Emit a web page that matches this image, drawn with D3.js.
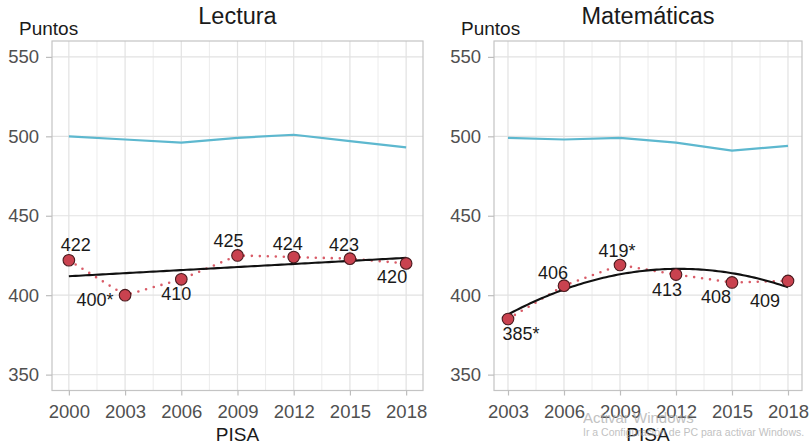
<!DOCTYPE html>
<html>
<head>
<meta charset="utf-8">
<script src="https://cdn.jsdelivr.net/npm/d3@7"></script>
<style>
  html, body { margin: 0; padding: 0; background: #fff; }
  svg { display: block; font-family: "Liberation Sans", Arial, sans-serif; }
</style>
</head>
<body>
<svg id="chart" width="811" height="446"></svg>
<script>
// PISA results: country average (red points) vs OECD average (blue line)
const lecturaYears = [2000, 2003, 2006, 2009, 2012, 2015, 2018];
const lecturaPais  = [422, 400, 410, 425, 424, 423, 420];
const lecturaText  = ["422", "400*", "410", "425", "424", "423", "420"];
const lecturaOcde  = [500, 498, 496, 499, 501, 497, 493];

const mateYears = [2003, 2006, 2009, 2012, 2015, 2018];
const matePais  = [385, 406, 419, 413, 408, 409];
const mateText  = ["385*", "406", "419*", "413", "408", "409"];
const mateOcde  = [499, 498, 499, 496, 491, 494];

const yTicks = [350, 400, 450, 500, 550];

// label nudges (px) relative to each point
const lecturaNudge = [[7, -9], [-30, 11], [-5, 21], [-9, -8], [-6, -7], [-6, -8], [-14, 20]];
const mateNudge    = [[13, 21], [-11, -7], [-3, -7.5], [-9, 21], [-16, 21], [-23, 26]];

const svg = d3.select("#chart");
svg.append("rect").attr("width", 811).attr("height", 446).attr("fill", "#fff");

// least-squares polynomial fit of given degree
function polyFit(xs, ys, deg) {
  const n = deg + 1;
  const A = Array.from({length: n}, () => new Array(n + 1).fill(0));
  xs.forEach((x, k) => {
    for (let i = 0; i < n; i++) {
      for (let j = 0; j < n; j++) A[i][j] += Math.pow(x, i + j);
      A[i][n] += ys[k] * Math.pow(x, i);
    }
  });
  for (let c = 0; c < n; c++) {
    let p = c;
    for (let r = c + 1; r < n; r++) if (Math.abs(A[r][c]) > Math.abs(A[p][c])) p = r;
    [A[c], A[p]] = [A[p], A[c]];
    for (let r = 0; r < n; r++) {
      if (r === c) continue;
      const f = A[r][c] / A[c][c];
      for (let k = c; k <= n; k++) A[r][k] -= f * A[c][k];
    }
  }
  const coef = A.map((row, i) => row[n] / row[i]);
  return x => coef.reduce((s, c, i) => s + c * Math.pow(x, i), 0);
}

function panel(opt) {
  const {left, right, top, bottom, years, pais, ocde, labels, nudge, title, degree} = opt;
  const g = svg.append("g");
  const span = years[years.length - 1] - years[0];
  const x = d3.scaleLinear()
    .domain([years[0] - span * 0.05, years[years.length - 1] + span * 0.05])
    .range([left, right]);
  const y = d3.scaleLinear().domain([340, 560]).range([bottom, top]);

  // vertical grid (major + minor)
  const minor = years.slice(1).map((v, i) => (v + years[i]) / 2);
  g.selectAll(".vminor").data(minor).join("line")
    .attr("x1", d => x(d)).attr("x2", d => x(d)).attr("y1", top).attr("y2", bottom)
    .attr("stroke", "#ececec").attr("stroke-width", 1);
  g.selectAll(".vmajor").data(years).join("line")
    .attr("x1", d => x(d)).attr("x2", d => x(d)).attr("y1", top).attr("y2", bottom)
    .attr("stroke", "#e2e2e2").attr("stroke-width", 1.2);
  g.selectAll(".hmajor").data(yTicks).join("line")
    .attr("x1", left).attr("x2", right).attr("y1", d => y(d)).attr("y2", d => y(d))
    .attr("stroke", "#e2e2e2").attr("stroke-width", 1.2);

  // panel border
  g.append("rect").attr("x", left).attr("y", top)
    .attr("width", right - left).attr("height", bottom - top)
    .attr("fill", "none").attr("stroke", "#c4c4c4").attr("stroke-width", 1.2);

  // axes
  const xAxis = g.append("g").attr("transform", `translate(0,${bottom})`)
    .call(d3.axisBottom(x).tickValues(years).tickFormat(d3.format("d")).tickSize(5).tickPadding(9));
  const yAxis = g.append("g").attr("transform", `translate(${left},0)`)
    .call(d3.axisLeft(y).tickValues(yTicks).tickSize(6).tickPadding(7));
  [xAxis, yAxis].forEach(a => {
    a.select(".domain").remove();
    a.selectAll(".tick line").attr("stroke", "#bdbdbd").attr("stroke-width", 1.2);
    a.selectAll(".tick text").attr("fill", "#505050")
      .style("font-size", "18.5px").style("font-family", "Liberation Sans, Arial, sans-serif");
  });

  // OECD average
  g.append("path")
    .datum(years.map((yr, i) => [yr, ocde[i]]))
    .attr("d", d3.line().x(d => x(d[0])).y(d => y(d[1])))
    .attr("fill", "none").attr("stroke", "#5db8cf").attr("stroke-width", 2.2);

  // dotted connection of country points
  g.append("path")
    .datum(years.map((yr, i) => [yr, pais[i]]))
    .attr("d", d3.line().x(d => x(d[0])).y(d => y(d[1])))
    .attr("fill", "none").attr("stroke", "#d95c68").attr("stroke-width", 2.6)
    .attr("stroke-linecap", "round").attr("stroke-dasharray", "0 8");

  // fitted trend
  const x0 = years[0];
  const fit = polyFit(years.map(v => v - x0), pais, degree);
  const trend = d3.range(0, 101).map(i => {
    const t = years[0] + (years[years.length - 1] - years[0]) * i / 100;
    return [t, fit(t - x0)];
  });
  g.append("path").datum(trend)
    .attr("d", d3.line().x(d => x(d[0])).y(d => y(d[1])))
    .attr("fill", "none").attr("stroke", "#111").attr("stroke-width", 2.1);

  // country points
  g.selectAll(".pt").data(years).join("circle")
    .attr("cx", d => x(d)).attr("cy", (d, i) => y(pais[i])).attr("r", 5.8)
    .attr("fill", "#c9424f").attr("stroke", "#4a1a1e").attr("stroke-width", 1.1);

  // value labels
  g.selectAll(".lbl").data(years).join("text")
    .attr("x", (d, i) => x(d) + nudge[i][0])
    .attr("y", (d, i) => y(pais[i]) + nudge[i][1])
    .attr("text-anchor", "middle").attr("fill", "#1a1a1a")
    .style("font-size", "18px")
    .text((d, i) => labels[i]);

  // titles
  g.append("text").attr("x", (left + right) / 2).attr("y", 24)
    .attr("text-anchor", "middle").attr("fill", "#1a1a1a")
    .style("font-size", "23.5px").text(title);
  g.append("text").attr("x", left - 33).attr("y", 35)
    .attr("fill", "#1a1a1a").style("font-size", "19px").text("Puntos");
  g.append("text").attr("x", (left + right) / 2).attr("y", 441)
    .attr("text-anchor", "middle").attr("fill", "#1a1a1a")
    .style("font-size", "19px").text("PISA");
}

panel({left: 52, right: 423, top: 41, bottom: 390.5, years: lecturaYears, pais: lecturaPais,
       ocde: lecturaOcde, labels: lecturaText, nudge: lecturaNudge, title: "Lectura", degree: 1});
panel({left: 494, right: 802, top: 41, bottom: 390.5, years: mateYears, pais: matePais,
       ocde: mateOcde, labels: mateText, nudge: mateNudge, title: "Matemáticas", degree: 2});

// system overlay text in the lower right corner
svg.append("text").attr("x", 583).attr("y", 423).attr("fill", "#a8a8a8").attr("opacity", 0.7)
  .style("font-size", "15px").text("Activar Windows");
svg.append("text").attr("x", 583).attr("y", 436).attr("fill", "#a8a8a8").attr("opacity", 0.7)
  .style("font-size", "10.5px").text("Ir a Configuración de PC para activar Windows.");
</script>
</body>
</html>
